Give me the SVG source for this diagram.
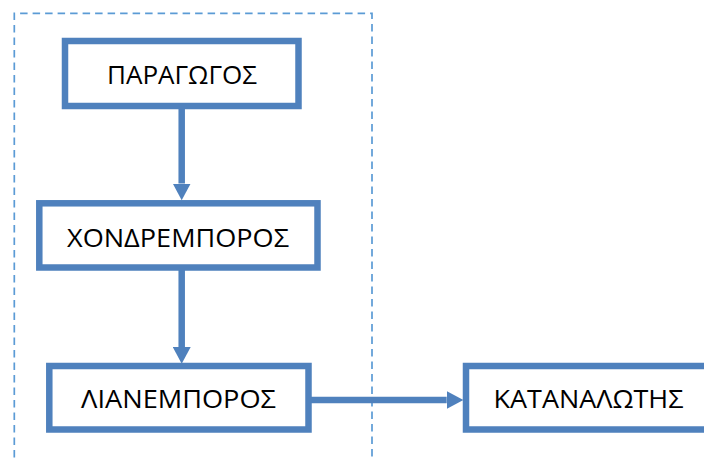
<svg xmlns="http://www.w3.org/2000/svg" width="704" height="461" viewBox="0 0 704 461">
  <style>
    .box { fill: #ffffff; stroke: #4f81bd; stroke-width: 6.5; }
    .lbl { font-family: "Open Sans", "Liberation Sans", sans-serif; font-size: 26px; fill: #000000; }
    .edge { fill: none; stroke: #4f81bd; stroke-width: 6.5; }
    .frame { fill: none; stroke: #5b9bd5; stroke-width: 1.7; stroke-dasharray: 7.5 5; }
  </style>
  <defs>
    <marker id="arrow" markerUnits="userSpaceOnUse" markerWidth="17" markerHeight="18" refX="0" refY="9" orient="auto">
      <path d="M0,0 L16.7,9 L0,18 z" fill="#4f81bd"/>
    </marker>
  </defs>
  <rect width="704" height="461" fill="#ffffff"/>

  <!-- dashed boundary around the supply chain -->
  <path class="frame" d="M14.3,470 V13.3 H372 V470"/>

  <g id="connectors">
    <path class="edge" d="M181.7,108 V183.5" marker-end="url(#arrow)"/>
    <path class="edge" d="M181.7,270 V347" marker-end="url(#arrow)"/>
    <path class="edge" d="M311,400 H446.7" marker-end="url(#arrow)"/>
  </g>

  <g id="paragogos">
    <rect class="box" x="65" y="41" width="233.5" height="65"/>
    <text class="lbl" x="107" y="83.5" textLength="150" lengthAdjust="spacingAndGlyphs">ΠΑΡΑΓΩΓΟΣ</text>
  </g>
  <g id="chondremporos">
    <rect class="box" x="39.3" y="203.3" width="278.2" height="64.2"/>
    <text class="lbl" x="67" y="246.8" textLength="222" lengthAdjust="spacingAndGlyphs">ΧΟΝΔΡΕΜΠΟΡΟΣ</text>
  </g>
  <g id="lianemporos">
    <rect class="box" x="49.3" y="366" width="259.2" height="63.5"/>
    <text class="lbl" x="81" y="408.4" textLength="195" lengthAdjust="spacingAndGlyphs">ΛΙΑΝΕΜΠΟΡΟΣ</text>
  </g>
  <g id="katanalotis">
    <rect class="box" x="466" y="366" width="300" height="63.5"/>
    <text class="lbl" x="493.5" y="407.8" textLength="190" lengthAdjust="spacingAndGlyphs">ΚΑΤΑΝΑΛΩΤΗΣ</text>
  </g>
</svg>
